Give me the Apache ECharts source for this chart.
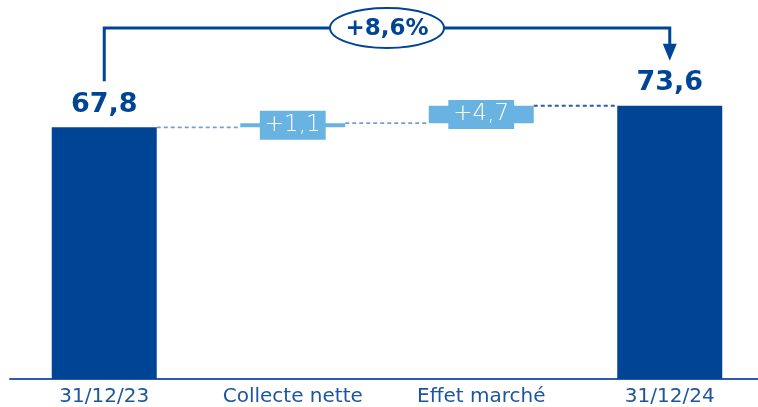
<!DOCTYPE html>
<html>
<head>
<meta charset="utf-8">
<script src="https://cdn.jsdelivr.net/npm/echarts@6/dist/echarts.min.js"></script>
<style>
  html, body { margin: 0; padding: 0; background: #fff; }
  #chart { width: 758px; height: 407px; }
</style>
</head>
<body>
<div id="chart"></div>
<script>
// données du graphique
const categories = ['31/12/23', 'Collecte nette', 'Effet marché', '31/12/24'];
const values = [67.8, 1.1, 4.7, 73.6];
const isTotal = [true, false, false, true];

const DARK = '#004595';
const LIGHT = '#69b3e3';

// base invisible pour le waterfall
let running = 0;
const baseValues = values.map((v, i) => {
  if (isTotal[i]) { running = v; return 0; }
  const b = running;
  running += v;
  return b;
});

const fmt = v => v.toFixed(1).replace('.', ',');

const chart = echarts.init(document.getElementById('chart'));

const option = {
  animation: false,
  grid: { left: 10, width: 754, top: 82, bottom: 28, outerBoundsMode: 'none', containLabel: false },
  xAxis: {
    type: 'category',
    data: categories,
    axisLine: { lineStyle: { color: '#2b5ea7', width: 2 } },
    axisTick: { show: false },
    axisLabel: {
      interval: 0,
      hideOverlap: false,
      color: '#1d56a0',
      fontSize: 20,
      fontFamily: 'DejaVu Sans',
      margin: 8
    }
  },
  yAxis: { type: 'value', min: 0, max: 80, show: false },
  series: [
    {
      type: 'bar',
      stack: 'wf',
      data: baseValues,
      itemStyle: { color: 'transparent' },
      barWidth: '55.7%',
      silent: true
    },
    {
      type: 'bar',
      stack: 'wf',
      barWidth: '55.7%',
      data: values.map((v, i) => ({
        value: v,
        itemStyle: { color: isTotal[i] ? DARK : LIGHT },
        label: isTotal[i] ? {
          show: true,
          position: 'top',
          distance: 9,
          formatter: () => fmt(v),
          color: DARK,
          fontSize: 27,
          fontWeight: 'bold',
          fontFamily: 'DejaVu Sans'
        } : {
          show: true,
          position: 'inside',
          formatter: () => '+' + fmt(v),
          color: '#fff',
          fontSize: 23,
          fontFamily: 'DejaVu Sans',
          fontWeight: 300,
          backgroundColor: LIGHT,
          padding: [3, 5]
        }
      }))
    }
  ]
};

chart.setOption(option);

// connecteurs et flèche de variation
const px = (i, v) => chart.convertToPixel({ seriesIndex: 1 }, [i, v]);
const band = px(1, 0)[0] - px(0, 0)[0];
const hw = band * 0.557 / 2;
const graphics = [];

for (let i = 0; i < values.length - 1; i++) {
  const level = baseValues[i] + values[i];
  const a = px(i, level), b = px(i + 1, level);
  graphics.push({
    type: 'line',
    shape: { x1: a[0] + hw, y1: a[1], x2: b[0] - hw, y2: b[1] },
    style: { stroke: i === values.length - 2 ? '#2b5ea7' : '#7f9dca', lineWidth: 1.8, lineDash: [4, 3] },
    z: 1
  });
}

const first = px(0, values[0]);
const last = px(values.length - 1, values[values.length - 1]);
const topY = 28;
const pct = (values[values.length - 1] / values[0] - 1) * 100;

graphics.push({
  type: 'polyline',
  shape: { points: [[first[0], first[1] - 46], [first[0], topY], [last[0], topY], [last[0], last[1] - 60]] },
  style: { stroke: DARK, lineWidth: 3, fill: null }
});
graphics.push({
  type: 'polygon',
  shape: { points: [[last[0] - 7, last[1] - 62], [last[0] + 7, last[1] - 62], [last[0], last[1] - 45]] },
  style: { fill: DARK }
});
const midX = (first[0] + last[0]) / 2;
graphics.push({
  type: 'ellipse',
  shape: { cx: midX, cy: topY, rx: 57, ry: 20 },
  style: { fill: '#fff', stroke: DARK, lineWidth: 2 }
});
graphics.push({
  type: 'text',
  x: midX, y: topY + 1,
  style: {
    text: '+' + fmt(pct) + '%',
    fill: DARK,
    fontSize: 23,
    fontWeight: 'bold',
    fontFamily: 'DejaVu Sans',
    align: 'center',
    verticalAlign: 'middle'
  }
});

chart.setOption({ graphic: graphics });
</script>
</body>
</html>
